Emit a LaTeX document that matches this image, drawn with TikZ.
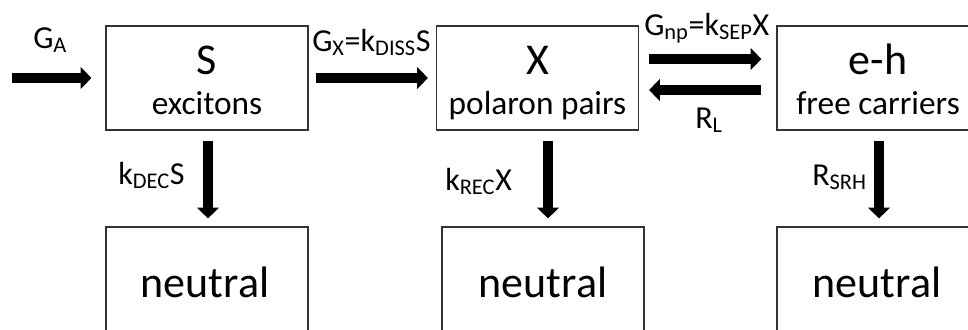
\documentclass[tikz,border=0pt]{standalone}
\usepackage{fontspec}
\setmainfont{Carlito}
\usetikzlibrary{arrows.meta,calc}
\tikzset{
  box/.style={draw=black!80, line width=0.9pt, minimum width=151.5pt, minimum height=78pt, inner sep=0pt},
  ttl/.style={anchor=base, inner sep=0pt, font=\fontsize{33}{33}\selectfont},
  subt/.style={anchor=base, inner sep=0pt, font=\fontsize{25}{25}\selectfont},
  lbl/.style={anchor=base west, inner sep=0pt, font=\fontsize{24}{24}\selectfont},
  arr/.style={line width=7.5pt, -{Triangle[width=16pt,length=8pt]}},
}
\begin{document}
\begin{tikzpicture}[x=0.75pt,y=-0.75pt]
\useasboundingbox (0,0) rectangle (968,329);
\clip (0,0) rectangle (968,329);
% top boxes
\node[box] (S) at (207,78) {};
\node[box] (X) at (537.5,78) {};
\node[box] (E) at (878,78) {};
% bottom boxes
\node[box] (N1) at (207,279) {};
\node[box] (N2) at (543,279) {};
\node[box] (N3) at (878,279) {};
% box texts
\node[ttl] (tS) at (207,74) {S};
\node[subt] (sS) at (207,114) {excitons};
\node[ttl] (tX) at (537.5,74) {X};
\node[subt] (sX) at (537.5,114) {polaron pairs};
\node[ttl] (tE) at (878,74) {e-h};
\node[subt] (sE) at (878,114) {free carriers};
\node[ttl] (n1) at (205,297) {neutral};
\node[ttl] (n2) at (543,297) {neutral};
\node[ttl] (n3) at (877,297) {neutral};
% arrows
\coordinate (gastart) at (12,78);
\draw[arr] (gastart) -- ($(S.west)+(-14,0)$);
\draw[arr] ($(S.east)+(7,0)$) -- ($(X.west)+(-8,0)$);
\draw[arr] ($(X.east)+(10,-19)$) -- ($(E.west)+(-15,-19)$);
\draw[arr] ($(E.west)+(-15,12)$) -- ($(X.east)+(10,12)$);
\draw[arr] ($(S.south)+(1,10)$) -- ($(N1.north)+(1,-8)$);
\draw[arr] ($(X.south)+(10.5,10)$) -- ($(N2.north)+(5,-8)$);
\draw[arr] ($(E.south)+(1,10)$) -- ($(N3.north)+(1,-8)$);
% labels
\node[lbl] (lGA) at (33,48) {G\textsubscript{A}};
\node[lbl] (lGX) at (312,51) {G\textsubscript{X}=k\textsubscript{DISS}S};
\node[lbl] (lGnp) at (644,35) {G\textsubscript{np}=k\textsubscript{SEP}X};
\node[lbl] (lRL) at (695,128) {R\textsubscript{L}};
\node[lbl] (lkd) at (118,184) {k\textsubscript{DEC}S};
\node[lbl] (lkr) at (445,190) {k\textsubscript{REC}X};
\node[lbl] (lrs) at (812,185) {R\textsubscript{SRH}};
\end{tikzpicture}
\end{document}
